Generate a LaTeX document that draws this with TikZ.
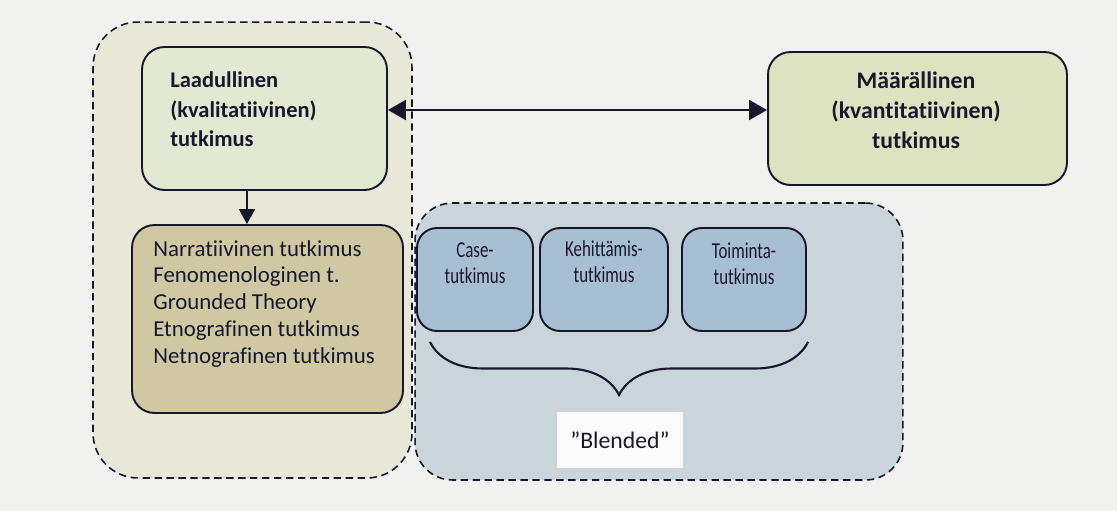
\documentclass[tikz,border=0pt]{standalone}
\usepackage{fontspec}
\setmainfont{Carlito}[Ligatures=NoCommon]
\newfontfamily\kapeafontti[FakeStretch=0.74,Ligatures=NoCommon]{Carlito}
\usetikzlibrary{arrows.meta,decorations.pathreplacing}
\definecolor{paperi}{RGB}{241,241,239}
\definecolor{viiva}{RGB}{24,24,44}
\definecolor{vasenalue}{RGB}{232,232,216}
\definecolor{laadullinenväri}{RGB}{227,232,210}
\definecolor{määrällinenväri}{RGB}{221,226,192}
\definecolor{menetelmäväri}{RGB}{207,200,163}
\definecolor{blendedalue}{RGB}{201,212,219}
\definecolor{sininen}{RGB}{168,190,209}

\begin{document}
\begin{tikzpicture}[x=0.02cm,y=-0.02cm]
    \tikzstyle{alue}=[draw=viiva, dash pattern=on 4.2pt off 2.6pt, line width=0.9pt]
    \tikzstyle{laatikko}=[draw=viiva, line width=1.1pt, rounded corners=0.45cm]
    \tikzstyle{teksti}=[inner sep=0pt, text=viiva]
    \tikzstyle{nuoli}=[draw=viiva, line width=1.2pt]
    \fill[paperi] (0,0) rectangle (1117,511);
    \useasboundingbox (0,0) rectangle (1117,511);
    \node[alue, fill=vasenalue, rounded corners=0.9cm, minimum width=6.38cm, minimum height=9.12cm] (vasen) at (252.5,250) {};
    \node[alue, fill=blendedalue, rounded corners=0.75cm, minimum width=9.76cm, minimum height=5.54cm] (blended) at (659,341.5) {};
    \node[laatikko, fill=laadullinenväri, minimum width=4.9cm, minimum height=2.86cm] (laadullinen) at (264.5,118.5) {};
    \node[laatikko, fill=määrällinenväri, minimum width=5.98cm, minimum height=2.66cm] (maarallinen) at (917.5,118.5) {};
    \node[laatikko, fill=menetelmäväri, minimum width=5.42cm, minimum height=3.76cm] (menetelmat) at (267.5,319) {};
    \node[laatikko, fill=sininen, rounded corners=0.4cm, minimum width=2.32cm, minimum height=2.06cm] (case) at (475,279.5) {};
    \node[laatikko, fill=sininen, rounded corners=0.4cm, minimum width=2.56cm, minimum height=2.06cm] (kehittamis) at (604,279.5) {};
    \node[laatikko, fill=sininen, rounded corners=0.4cm, minimum width=2.48cm, minimum height=2.06cm] (toiminta) at (744,279.5) {};
    \node[fill=white!80!paperi, minimum width=2.52cm, minimum height=1.12cm, text=viiva, font=\fontsize{13.5}{15}\selectfont] (blendednimi) at (620,440) {”Blended”};

    \node[teksti, anchor=north west, align=left, font=\bfseries\fontsize{12.8}{17}\selectfont] (laadullinenteksti) at (170,71) {Laadullinen\\(kvalitatiivinen)\\tutkimus};
    \node[teksti, anchor=north, align=center, font=\bfseries\fontsize{13.5}{17}\selectfont] (maarallinenteksti) at (916,72) {Määrällinen\\(kvantitatiivinen)\\tutkimus};
    \node[teksti, anchor=north west, align=left, font=\fontsize{13}{15.2}\selectfont] (menetelmateksti) at (153,240) {Narratiivinen tutkimus\\Fenomenologinen t.\\Grounded Theory\\Etnografinen tutkimus\\Netnografinen tutkimus};
    \node[teksti, anchor=north, align=center, font=\kapeafontti\fontsize{13}{15.2}\selectfont] (caseteksti) at (475,242) {Case-\\tutkimus};
    \node[teksti, anchor=north, align=center, font=\kapeafontti\fontsize{13}{15.2}\selectfont] (kehittamisteksti) at (604,240) {Kehittämis-\\tutkimus};
    \node[teksti, anchor=north, align=center, font=\kapeafontti\fontsize{13}{15.2}\selectfont] (toimintateksti) at (744,242) {Toiminta-\\tutkimus};

    \draw[nuoli, {Triangle[length=3.6mm,width=4mm]}-{Triangle[length=3.6mm,width=4mm]}] (laadullinen.east |- 0,110) -- (maarallinen.west |- 0,110);
    \draw[nuoli, -{Triangle[length=3mm,width=3.2mm]}] (laadullinen.south -| 247,0) -- (menetelmat.north -| 247,0);
    \coordinate (aaltoalku) at (430,342);
    \coordinate (aaltoloppu) at (808,342);
    \draw[nuoli, decorate, decoration={brace, mirror, amplitude=1.06cm}] (aaltoalku) -- (aaltoloppu);
\end{tikzpicture}
\end{document}
